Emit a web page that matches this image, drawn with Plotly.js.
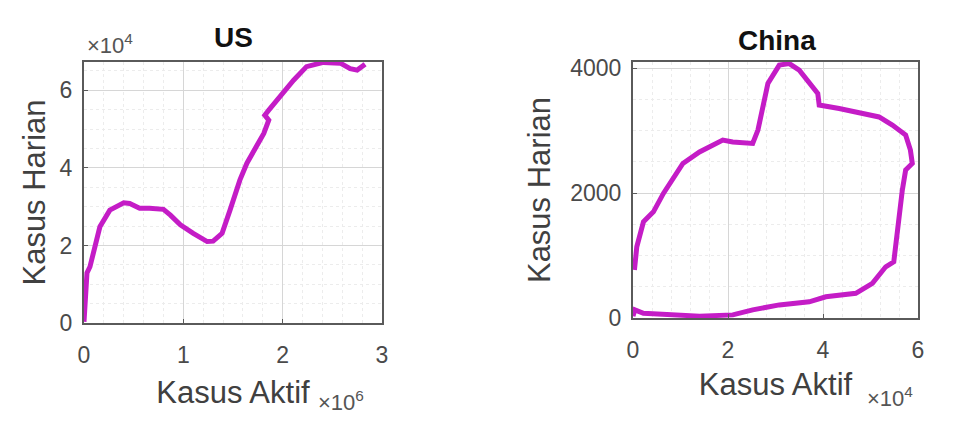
<!DOCTYPE html>
<html>
<head>
<meta charset="utf-8">
<script src="https://cdn.plot.ly/plotly-3.0.1.min.js"></script>
<style>html,body{margin:0;padding:0;background:#fff;}#chart{width:966px;height:440px;}</style>
</head>
<body>
<div id="chart"></div>
<script>
// US: active cases (x) vs daily cases (y)
const usActive = [0, 10000, 30000, 60000, 160000, 260000, 400000, 460000, 560000, 660000, 800000, 870000, 970000, 1100000, 1240000, 1300000, 1390000, 1470000, 1570000, 1640000, 1700000, 1810000, 1860000, 1820000, 1860000, 1970000, 2110000, 2240000, 2410000, 2580000, 2680000, 2750000, 2810000, 2830000];
const usDaily = [300, 3300, 12900, 14500, 24800, 29100, 31000, 30800, 29600, 29600, 29300, 27800, 25300, 23100, 21000, 21100, 23100, 29100, 36900, 41200, 43700, 48900, 52300, 53600, 54900, 58300, 62600, 66100, 67200, 67000, 65600, 65200, 66500, 66700];

// China: active cases (x) vs daily cases (y)
const cnActive = [300, 800, 2200, 4300, 6400, 8500, 10500, 14000, 18900, 21000, 25200, 26300, 27700, 28400, 30800, 32900, 35000, 37100, 38900, 39200, 43400, 51800, 54600, 57400, 58400, 58800, 57400, 56700, 55600, 54900, 53200, 50400, 46900, 40600, 37100, 30800, 25200, 21000, 14000, 7100, 2200, 400, 0];
const cnDaily = [770, 1140, 1540, 1700, 1995, 2260, 2475, 2660, 2850, 2820, 2795, 3010, 3490, 3755, 4050, 4075, 3970, 3780, 3595, 3410, 3355, 3220, 3090, 2930, 2690, 2475, 2370, 2050, 1355, 900, 820, 555, 395, 340, 260, 210, 130, 50, 30, 50, 75, 130, 30];

const titles = ['US', 'China'];
const xTitle = 'Kasus Aktif';
const yTitle = 'Kasus Harian';
const usXTickVals = [0, 1000000, 2000000, 3000000];
const usXTickText = ['0', '1', '2', '3'];
const usYTickVals = [0, 20000, 40000, 60000];
const usYTickText = ['0', '2', '4', '6'];
const cnXTickVals = [0, 20000, 40000, 60000];
const cnXTickText = ['0', '2', '4', '6'];
const cnYTickVals = [0, 2000, 4000];
const cnYTickText = ['0', '2000', '4000'];

const lineColor = '#c41cc6';
const FONT = 'Liberation Sans, Arial, Helvetica, sans-serif';
const tickFont = {family: FONT, size: 23, color: '#4a4a4a'};
const axTitleFont = {family: FONT, size: 31, color: '#404040'};

function axisBase() {
  return {
    showline: true, mirror: true, linecolor: '#5a5a5a', linewidth: 2,
    showgrid: true, gridcolor: '#d6d6d6', gridwidth: 1,
    zeroline: false, ticks: 'inside', ticklen: 4, tickcolor: '#5a5a5a',
    tickfont: tickFont, fixedrange: true, automargin: false
  };
}

const traces = [
  {x: usActive, y: usDaily, xaxis: 'x', yaxis: 'y', mode: 'lines', type: 'scatter',
   line: {color: lineColor, width: 5, shape: 'linear'}, hoverinfo: 'skip'},
  {x: cnActive, y: cnDaily, xaxis: 'x2', yaxis: 'y2', mode: 'lines', type: 'scatter',
   line: {color: lineColor, width: 5, shape: 'linear'}, hoverinfo: 'skip'}
];

const layout = {
  width: 966, height: 440,
  margin: {l: 0, r: 0, t: 0, b: 0},
  paper_bgcolor: '#ffffff', plot_bgcolor: '#ffffff',
  showlegend: false,
  xaxis: Object.assign(axisBase(), {
    domain: [84/966, 382/966], range: [0, 3000000], ticklabelstandoff: 10,
    tickmode: 'array', tickvals: usXTickVals, ticktext: usXTickText,
    minor: {dtick: 200000, tick0: 0, showgrid: true, gridcolor: '#ececec', griddash: 'dot', gridwidth: 1},
    title: {text: xTitle, font: axTitleFont, standoff: 15}
  }),
  yaxis: Object.assign(axisBase(), {
    domain: [1 - 323/440, 1 - 62/440], range: [0, 67300], ticklabelstandoff: 5,
    tickmode: 'array', tickvals: usYTickVals, ticktext: usYTickText,
    minor: {dtick: 5000, tick0: 0, showgrid: true, gridcolor: '#ececec', griddash: 'dot', gridwidth: 1},
    title: {text: yTitle, font: axTitleFont, standoff: 5}
  }),
  xaxis2: Object.assign(axisBase(), {
    domain: [633/966, 918/966], range: [0, 60000], anchor: 'y2', ticklabelstandoff: 10,
    tickmode: 'array', tickvals: cnXTickVals, ticktext: cnXTickText,
    minor: {dtick: 4000, tick0: 0, showgrid: true, gridcolor: '#ececec', griddash: 'dot', gridwidth: 1},
    title: {text: xTitle, font: axTitleFont, standoff: 12}
  }),
  yaxis2: Object.assign(axisBase(), {
    domain: [1 - 318/440, 1 - 62/440], range: [0, 4100], anchor: 'x2', ticklabelstandoff: 5,
    tickmode: 'array', tickvals: cnYTickVals, ticktext: cnYTickText,
    minor: {dtick: 500, tick0: 0, showgrid: true, gridcolor: '#ececec', griddash: 'dot', gridwidth: 1},
    title: {text: yTitle, font: axTitleFont, standoff: 10}
  }),
  annotations: [
    {text: '<b>' + titles[0] + '</b>', xref: 'paper', yref: 'paper', x: 233/966, y: 1 - 37/440,
     showarrow: false, xanchor: 'center', yanchor: 'middle', font: {family: FONT, size: 28, color: '#111111'}},
    {text: '<b>' + titles[1] + '</b>', xref: 'paper', yref: 'paper', x: 777/966, y: 1 - 41/440,
     showarrow: false, xanchor: 'center', yanchor: 'middle', font: {family: FONT, size: 28, color: '#111111'}},
    {text: '×10<sup>4</sup>', xref: 'paper', yref: 'paper', x: 85/966, y: 1 - 44/440,
     showarrow: false, xanchor: 'left', yanchor: 'middle', font: {family: FONT, size: 22, color: '#555555'}},
    {text: '×10<sup>6</sup>', xref: 'paper', yref: 'paper', x: 316/966, y: 1 - 401/440,
     showarrow: false, xanchor: 'left', yanchor: 'middle', font: {family: FONT, size: 22, color: '#555555'}},
    {text: '×10<sup>4</sup>', xref: 'paper', yref: 'paper', x: 865/966, y: 1 - 397/440,
     showarrow: false, xanchor: 'left', yanchor: 'middle', font: {family: FONT, size: 22, color: '#555555'}}
  ]
};

Plotly.newPlot('chart', traces, layout, {staticPlot: true, displayModeBar: false});
</script>
</body>
</html>
